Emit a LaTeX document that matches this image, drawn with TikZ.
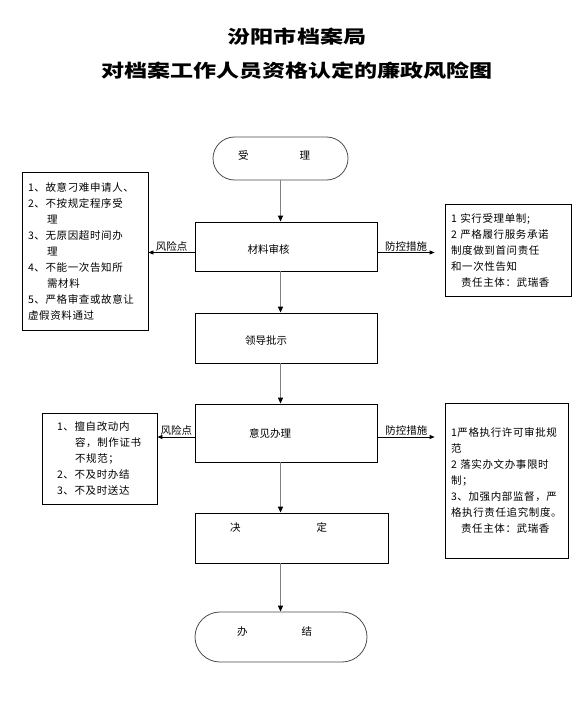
\documentclass[tikz,border=0pt]{standalone}
\usepackage{fontspec}
\setmainfont{Noto Sans CJK SC}
\newfontfamily\titlefont[FakeStretch=1.28]{Noto Sans CJK SC}
\newfontfamily\notefont[LetterSpace=6]{Noto Sans CJK SC}
\usetikzlibrary{arrows.meta,positioning}

\begin{document}
\begin{tikzpicture}[
    x=1pt, y=-1pt,
    flowbox/.style={draw, line width=0.8pt, minimum width=182pt, minimum height=50pt, inner sep=0pt},
    termbox/.style={draw=black!70, line width=0.8pt, inner sep=0pt},
    notebox/.style={draw, line width=0.8pt, align=left, inner xsep=6pt, inner ysep=0pt, font=\notefont\fontsize{10.5}{16}\selectfont},
    flowline/.style={draw=black!50, line width=1.2pt, -{Triangle[length=6pt,width=5pt,color=black]}},
    sideline/.style={draw, line width=0.8pt, -{Triangle[length=5pt,width=4pt]}},
    tag/.style={font=\fontsize{10.5}{12}\selectfont, above, inner sep=1pt},
    every label/.style={font=\fontsize{10.5}{12}\selectfont, inner sep=0pt}
]
\useasboundingbox (0,0) rectangle (588,706);
\fill[white] (0,0) rectangle (588,706);

% title
\node[font=\titlefont\bfseries\fontsize{18}{22}\selectfont] (title1) at (297,37) {汾阳市档案局};
\node[font=\titlefont\bfseries\fontsize{18}{22}\selectfont] (title2) at (297,71) {对档案工作人员资格认定的廉政风险图};

% main flow
\node[termbox, minimum width=135pt, minimum height=43pt, rounded corners=21.5pt,
      label={[xshift=-6.5pt, yshift=3pt]center:受\hspace{51pt}理}] (start) at (280.5,158.5) {};
\node[flowbox, minimum height=49pt, label={[xshift=-17.5pt, yshift=-3pt]center:材料审核}] (shenhe) at (286,246.5) {};
\node[flowbox, label={[xshift=-20pt, yshift=-3pt]center:领导批示}] (lingdao) at (286,338) {};
\node[flowbox, minimum height=58pt, label={[xshift=-16.5pt]center:意见办理}] (yijian) at (286.5,433) {};
\node[flowbox, minimum width=193pt, label={[xshift=-13pt, yshift=11pt]center:决\hspace{76pt}定}] (jueding) at (291.5,538) {};
\node[termbox, minimum width=172pt, minimum height=50pt, rounded corners=25pt,
      label={[xshift=-6.5pt, yshift=5pt]center:办\hspace{54pt}结}] (banjie) at (281,637) {};

% risks and controls
\node[notebox, minimum width=126pt, minimum height=158pt, text width=114pt] (risk1) at (85,251)
  {1、故意刁难申请人、\\2、不按规定程序受\\\hspace*{19pt}理\\3、无原因超时间办\\\hspace*{19pt}理\\4、不能一次告知所\\\hspace*{19pt}需材料\\5、严格审查或故意让\\虚假资料通过};
\node[notebox, minimum width=126pt, minimum height=92pt, text width=114pt] (ctrl1) at (508,250)
  {1 实行受理单制;\\2 严格履行服务承诺\\制度做到首问责任\\和一次性告知\\\hspace*{10pt}责任主体：武瑞香};
\node[notebox, inner xsep=15pt, minimum width=115pt, minimum height=91pt, text width=85pt] (risk2) at (99.5,458.5)
  {1、擅自改动内\\\hspace*{18pt}容，制作证书\\\hspace*{18pt}不规范；\\2、不及时办结\\3、不及时送达};
\node[notebox, minimum width=123pt, minimum height=155pt, text width=111pt] (ctrl2) at (506.5,480.5)
  {1严格执行许可审批规\\范\\2 落实办文办事限时\\制；\\3、加强内部监督，严\\格执行责任追究制度。\\\hspace*{10pt}责任主体：武瑞香};
\coordinate (ctrl1in) at ([xshift=-10pt]ctrl1.west);
\coordinate (ctrl2in) at ([xshift=-10pt]ctrl2.west);

% connectors
\draw[flowline] (start.south) -- (shenhe.north -| start);
\draw[flowline] (shenhe.south -| start) -- (lingdao.north -| start);
\draw[flowline] (lingdao.south -| start) -- (yijian.north -| start);
\draw[flowline] (yijian.south -| start) -- (jueding.north -| start);
\draw[flowline] (jueding.south -| start) -- (banjie.north -| start);

\draw[sideline] ([yshift=-6pt]shenhe.west) -- ([yshift=-6pt]shenhe.west -| risk1.east) node[tag, midway]{风险点};
\draw[sideline] ([yshift=-6pt]shenhe.east) -- ([yshift=-6pt]shenhe.east -| ctrl1in) node[tag, midway]{防控措施};
\draw[sideline] ([yshift=-4pt]yijian.west) -- ([yshift=-4pt]yijian.west -| risk2.east) node[tag, midway]{风险点};
\draw[sideline] ([yshift=-4pt]yijian.east) -- ([yshift=-4pt]yijian.east -| ctrl2in) node[tag, midway]{防控措施};
\end{tikzpicture}
\end{document}
